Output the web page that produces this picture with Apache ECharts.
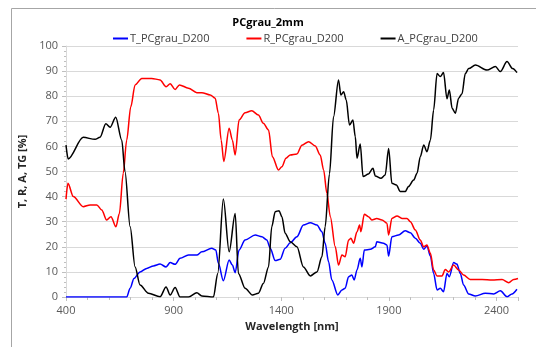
<!DOCTYPE html>
<html>
<head>
<meta charset="utf-8">
<script src="https://cdn.jsdelivr.net/npm/echarts@6/dist/echarts.min.js"></script>
<style>
  html, body { margin: 0; padding: 0; background: #fff; }
  #chart { width: 536px; height: 347px; }
</style>
</head>
<body>
<div id="chart"></div>
<script>
// series names
var seriesNames = ['T_PCgrau_D200', 'R_PCgrau_D200', 'A_PCgrau_D200'];

// T: [wavelength nm, %]
var tData = [[400,0],[682,0],[698,3.5],[716,7.4],[744,10],[775,11.4],[806,12.4],[837,13.1],[865,12],[884,13.7],[907,13],[930,15.4],[969,16.7],[1008,16.7],[1031,18],[1077,19.4],[1096,18.7],[1108,13.4],[1131,6.5],[1158,14.7],[1173,12.7],[1186,9.7],[1204,18.7],[1232,22.7],[1279,24.7],[1310,24],[1333,22.7],[1349,19.4],[1372,14.5],[1395,15],[1418,19.4],[1442,21.6],[1473,24],[1503,28.7],[1535,29.6],[1566,28.7],[1589,26],[1604,21.4],[1620,14],[1635,6.8],[1663,0.8],[1682,2.8],[1697,3.5],[1713,8.1],[1728,8.8],[1739,6.8],[1752,10.8],[1767,15.4],[1775,12],[1786,18.7],[1814,19],[1837,20],[1844,22],[1875,21.4],[1891,20.7],[1899,16.3],[1914,24],[1945,24.7],[1976,26.4],[2000,25.6],[2023,23.4],[2046,21.4],[2062,19],[2077,20.3],[2093,16.3],[2108,9.4],[2124,2.8],[2139,3.5],[2154,2.1],[2170,9.4],[2181,8.1],[2201,13.7],[2216,13.1],[2232,9.4],[2247,4.8],[2271,1.2],[2302,0.4],[2348,1.5],[2387,1.2],[2418,2.5],[2449,0.1],[2472,1.2],[2495,3.1]];

// R
var rData = [[400,39],[409,45.3],[434,40],[480,36],[512,36.7],[543,36.7],[566,34.7],[589,30.7],[609,32],[632,28],[648,33.3],[666,49.3],[682,62.5],[701,75.8],[721,84.5],[752,87.1],[798,87.1],[837,86.5],[865,83.8],[884,85],[907,82.7],[927,84.5],[969,83.2],[1008,81.4],[1031,81.4],[1070,80.5],[1093,79.2],[1108,73.2],[1121,62.5],[1133,54],[1158,67.2],[1173,62.5],[1186,56.6],[1204,70.5],[1232,73.4],[1263,74.2],[1294,72.5],[1317,69.2],[1341,66.5],[1359,55.9],[1387,50.6],[1403,51.9],[1422,55.3],[1442,56.6],[1473,57],[1496,60.5],[1527,61.9],[1558,60.2],[1581,56.6],[1597,50.6],[1612,41.3],[1628,32],[1651,20],[1666,12.7],[1682,16.7],[1697,16],[1713,22.7],[1724,23.4],[1736,21.4],[1752,26],[1764,28.7],[1770,26],[1786,33],[1805,32],[1821,30.7],[1844,31.3],[1868,30.7],[1891,29.4],[1899,24.7],[1914,31.3],[1938,32.3],[1961,31.3],[1984,31.3],[2000,30],[2023,26.7],[2046,22.7],[2062,20],[2077,20.7],[2093,17.4],[2108,10.8],[2124,8.4],[2147,8.4],[2162,11],[2178,10],[2201,12.7],[2224,10.8],[2247,8.8],[2278,7],[2333,7],[2380,6.8],[2426,7],[2457,5.7],[2480,7],[2500,7.4]];

// A
var aData = [[400,60.5],[410,55],[480,63.6],[535,62.8],[558,63.6],[585,69],[605,67.6],[631,71.6],[659,62.5],[674,50],[698,28],[721,12],[744,4.8],[783,1.5],[837,0.1],[865,4],[884,0.8],[907,3.8],[930,0],[969,0],[1008,1.7],[1031,0.4],[1085,0],[1105,9.4],[1131,39],[1158,18],[1186,33.3],[1201,9.4],[1232,3.5],[1266,0.8],[1294,1.5],[1317,5.4],[1341,12],[1356,28],[1372,34],[1390,34.4],[1403,32],[1418,25.4],[1442,22],[1473,20],[1503,12],[1535,8.4],[1566,10],[1589,16],[1604,28],[1624,49],[1643,71.8],[1666,86.5],[1677,80.5],[1690,81.8],[1702,78.5],[1717,68.5],[1733,70.5],[1744,63.9],[1752,55.3],[1767,61],[1780,48],[1805,49],[1826,51.3],[1837,48.2],[1863,47.3],[1883,48.6],[1899,59.2],[1914,45.3],[1935,44.6],[1953,42],[1976,42],[1991,44],[2015,46.6],[2031,49.3],[2046,55.9],[2062,60.6],[2077,57.9],[2093,62.5],[2108,74.5],[2124,89],[2139,87.8],[2154,89.4],[2170,79],[2181,82.5],[2194,75.2],[2209,73.2],[2224,79.2],[2240,81],[2255,89],[2271,91],[2302,92.4],[2356,90.4],[2395,91.8],[2418,89.8],[2449,93.8],[2475,91],[2495,89.4]];

var colors = ['#0000ff', '#ff0000', '#000000'];
var font = '"Open Sans", "Noto Sans", sans-serif';

var chart = echarts.init(document.getElementById('chart'));

function mkSeries(name, data, color) {
    return {
        name: name,
        type: 'line',
        data: data,
        symbol: 'none',
        smooth: 0.3,
        smoothMonotone: 'x',
        lineStyle: { color: color, width: 1.5 },
        itemStyle: { color: color },
        z: 3
    };
}

var option = {
    animation: false,
    backgroundColor: '#fff',
    color: colors,
    textStyle: { fontFamily: font },
    title: {
        text: 'PCgrau_2mm',
        left: 'center',
        top: 12,
        textStyle: { fontSize: 11, fontWeight: 'bold', color: '#000', fontFamily: font }
    },
    legend: {
        top: 28,
        left: 108,
        itemWidth: 15,
        itemHeight: 2,
        itemGap: 37,
        icon: 'rect',
        textStyle: { fontSize: 11, color: '#404040', fontFamily: font, padding: [0, 0, 0, -3] },
        data: seriesNames
    },
    graphic: [{
        type: 'rect',
        shape: { x: 11.5, y: 8.5, width: 600, height: 400 },
        style: { fill: 'none', stroke: '#a6a6a6', lineWidth: 1 },
        silent: true,
        z: -1
    }],
    grid: { left: 66, right: 18, top: 46, bottom: 50 },
    xAxis: {
        type: 'value',
        min: 400,
        max: 2500,
        interval: 500,
        name: 'Wavelength [nm]',
        nameLocation: 'middle',
        nameGap: 24,
        nameTextStyle: { fontSize: 11, fontWeight: 'bold', color: '#262626', fontFamily: font },
        axisLine: { show: true, lineStyle: { color: '#d9d9d9' } },
        axisTick: { show: true, length: 4, lineStyle: { color: '#bfbfbf' } },
        minorTick: { show: true, splitNumber: 5, length: 3, lineStyle: { color: '#bfbfbf' } },
        axisLabel: {
            fontSize: 11, color: '#595959', margin: 8, showMaxLabel: false, fontFamily: font,
            formatter: function (v) { return String(v); }
        },
        splitLine: { show: false }
    },
    yAxis: {
        type: 'value',
        min: 0,
        max: 100,
        interval: 10,
        name: 'T, R, A, TG [%]',
        nameLocation: 'middle',
        nameGap: 31,
        nameTextStyle: { fontSize: 11, fontWeight: 'bold', color: '#262626', fontFamily: font },
        axisLine: { show: true, lineStyle: { color: '#d9d9d9' } },
        axisTick: { show: true, length: 4, lineStyle: { color: '#bfbfbf' } },
        minorTick: { show: true, splitNumber: 5, length: 2, lineStyle: { color: '#bfbfbf' } },
        axisLabel: { fontSize: 11, color: '#595959', margin: 8, fontFamily: font },
        splitLine: { show: true, lineStyle: { color: '#d9d9d9', width: 1 } }
    },
    series: [
        mkSeries(seriesNames[0], tData, colors[0]),
        mkSeries(seriesNames[1], rData, colors[1]),
        mkSeries(seriesNames[2], aData, colors[2])
    ]
};

chart.setOption(option);
</script>
</body>
</html>
